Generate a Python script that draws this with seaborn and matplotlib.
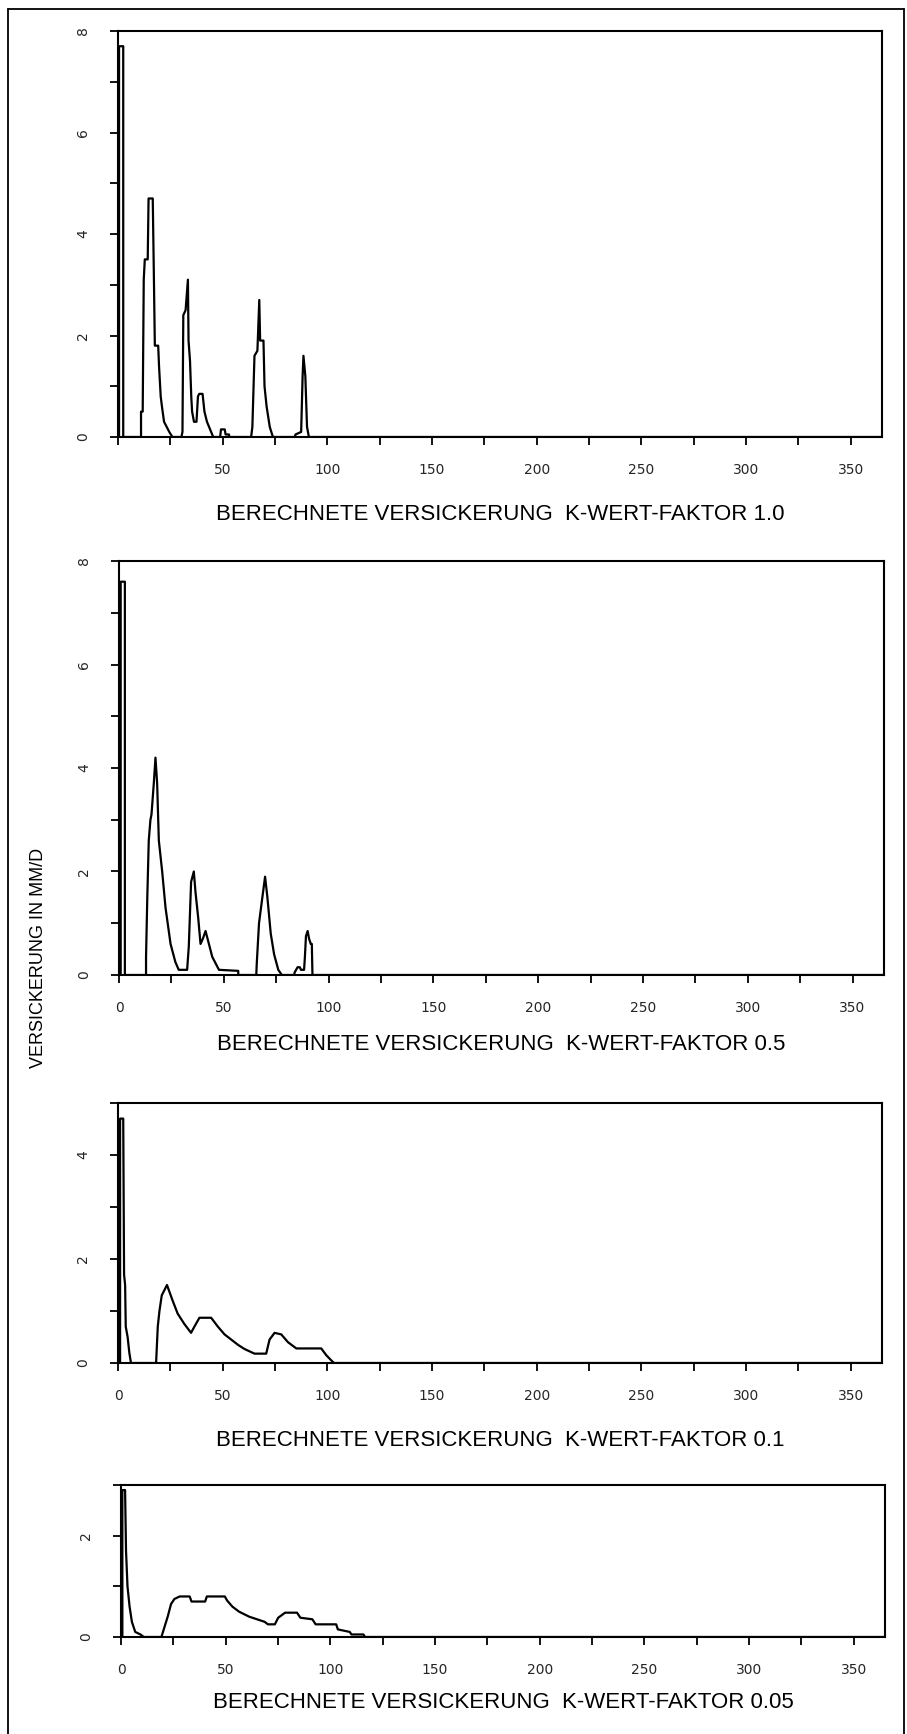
import matplotlib
matplotlib.use("Agg")
import matplotlib.pyplot as plt
from matplotlib.lines import Line2D
from matplotlib.ticker import MultipleLocator
import seaborn as sns

# Versickerung (mm/d) per day of year
days_10 = [0, 0.5, 0.5, 2.5, 2.5, 11, 11, 11.8, 12.3, 12.8, 14.2, 14.6, 16.6, 17.2, 17.6, 19.2,
           19.6, 20.4, 21, 22, 24.5, 26, 30.3, 30.8, 31.2, 32.3, 33.4, 33.7, 34.4, 35, 35.4,
           36.3, 37.5, 38.2, 38.8, 40.4, 41.3, 42.5, 43.5, 45.5, 48.8, 49.2, 51, 51.4, 53, 53.2,
           63.6, 64.2, 65.2, 66.6, 67.5, 67.9, 69.5, 70, 71, 72.5, 74, 84.5, 84.8, 87.5, 88.2,
           88.6, 89.5, 90.3, 91.2, 365]
vals_10 = [0, 0, 7.7, 7.7, 0, 0, 0.5, 0.5, 3.1, 3.5, 3.5, 4.7, 4.7, 3.0, 1.8, 1.8,
           1.4, 0.8, 0.6, 0.3, 0.1, 0, 0, 0.1, 2.4, 2.5, 3.1, 1.9, 1.5, 0.8, 0.5,
           0.3, 0.3, 0.8, 0.85, 0.85, 0.5, 0.3, 0.2, 0, 0, 0.15, 0.15, 0.05, 0.05, 0,
           0, 0.2, 1.6, 1.7, 2.7, 1.9, 1.9, 1.0, 0.6, 0.2, 0, 0, 0.05, 0.1, 1.2,
           1.6, 1.2, 0.2, 0, 0]

days_05 = [0, 0.8, 0.8, 2.8, 2.8, 12.9, 12.9, 13.5, 14.2, 15, 15.5, 16.6, 17.4, 18.2, 19,
           20.6, 22.2, 24.6, 26.9, 28.5, 32.5, 33.3, 34.4, 35.7, 36.5, 37.8, 38.9, 40, 41.3,
           42.9, 44.5, 47.7, 56.9, 56.9, 65.5, 65.7, 66.8, 68.4, 69.7, 70.8, 72.4, 74, 76,
           77.7, 83.6, 83.8, 85.2, 86.3, 86.8, 88.3, 88.7, 89.2, 90, 90.7, 91.5, 92, 92.3, 365]
vals_05 = [0, 0, 7.6, 7.6, 0, 0, 0.35, 1.5, 2.6, 3.0, 3.1, 3.7, 4.2, 3.7, 2.6,
           2.0, 1.3, 0.6, 0.25, 0.1, 0.1, 0.55, 1.8, 2.0, 1.6, 1.1, 0.6, 0.7, 0.85,
           0.6, 0.35, 0.1, 0.08, 0, 0, 0.2, 1.0, 1.5, 1.9, 1.5, 0.8, 0.4, 0.1,
           0, 0, 0.05, 0.15, 0.15, 0.1, 0.1, 0.35, 0.75, 0.85, 0.7, 0.6, 0.6, 0, 0]

days_01 = [0, 1, 1, 2.5, 2.9, 3.4, 3.7, 4.6, 5.4, 6.2, 18.2, 19.0, 19.8, 20.9, 23.4, 26.1,
           28.5, 31.7, 34.9, 36.5, 38.9, 44.5, 47.7, 50.9, 54.1, 57.3, 60.4, 65.2, 70.8,
           72.4, 74.8, 78, 81.2, 85.2, 97.1, 99.5, 101.9, 103.2, 365]
vals_01 = [0, 0, 4.7, 4.7, 1.7, 1.5, 0.7, 0.5, 0.2, 0, 0, 0.7, 1.0, 1.3, 1.5, 1.2,
           0.95, 0.75, 0.58, 0.7, 0.87, 0.87, 0.7, 0.55, 0.45, 0.35, 0.27, 0.18, 0.18,
           0.45, 0.58, 0.55, 0.4, 0.28, 0.28, 0.15, 0.05, 0, 0]

days_005 = [0, 0.65, 0.65, 1.95, 2.4, 3.1, 4.1, 5.2, 6.8, 9.3, 10.9, 19.3, 22.3, 23.9, 25.5,
            28, 32.8, 33.7, 40.2, 41, 49.6, 50.7, 53.2, 56.4, 61.3, 68.6, 70.2, 73.5, 75.1,
            78.4, 84.1, 85.7, 91.4, 93, 102.8, 103.6, 109.3, 110.1, 115.8, 116.6, 365]
vals_005 = [0, 0, 2.9, 2.9, 1.7, 1.0, 0.6, 0.3, 0.1, 0.05, 0, 0, 0.4, 0.65, 0.75,
            0.8, 0.8, 0.7, 0.7, 0.8, 0.8, 0.72, 0.6, 0.5, 0.4, 0.3, 0.25, 0.25, 0.38,
            0.48, 0.48, 0.38, 0.35, 0.25, 0.25, 0.15, 0.1, 0.05, 0.05, 0, 0]

titles = ["BERECHNETE VERSICKERUNG  K-WERT-FAKTOR 1.0",
          "BERECHNETE VERSICKERUNG  K-WERT-FAKTOR 0.5",
          "BERECHNETE VERSICKERUNG  K-WERT-FAKTOR 0.1",
          "BERECHNETE VERSICKERUNG  K-WERT-FAKTOR 0.05"]
y_max = [8, 8, 5, 3]
ylabel = "VERSICKERUNG IN MM/D"

sns.set_theme(style="ticks")
plt.rcParams["font.family"] = ["DejaVu Sans"]
narrow = ["Liberation Sans Narrow", "Liberation Sans", "DejaVu Sans"]

W, H = 907, 1734
fig = plt.figure(figsize=(W / 100, H / 100), dpi=100)

# axes boxes in pixels: left, top, right, bottom
boxes = [(118, 31, 882, 437), (119, 561, 884, 975), (118, 1103, 882, 1363), (121, 1485, 885, 1637)]
title_off = [78, 70, 78, 66]
series = [(days_10, vals_10), (days_05, vals_05), (days_01, vals_01), (days_005, vals_005)]

for i, ((l, t, r, b), (d, v)) in enumerate(zip(boxes, series)):
    ax = fig.add_axes([l / W, 1 - b / H, (r - l) / W, (b - t) / H])
    sns.lineplot(x=d, y=v, ax=ax, estimator=None, sort=False, color="black", linewidth=1.6)
    ax.set_xlim(0, 365)
    ax.set_ylim(0, y_max[i])
    ax.xaxis.set_major_locator(MultipleLocator(50))
    ax.xaxis.set_minor_locator(MultipleLocator(25))
    ax.yaxis.set_major_locator(MultipleLocator(2))
    ax.yaxis.set_minor_locator(MultipleLocator(1))
    ax.tick_params(axis="both", which="both", direction="out", length=6, width=1.3, color="black")
    ax.tick_params(axis="x", which="major", labelsize=10, pad=13)
    ax.tick_params(axis="y", which="major", labelsize=10, pad=14, labelrotation=90)
    xt = list(range(0, 351, 50))
    ax.set_xticks(xt)
    ax.set_xticklabels(["" if (i == 0 and x == 0) else str(x) for x in xt])
    for lab in ax.get_yticklabels():
        lab.set_va("center")
    for s in ax.spines.values():
        s.set_linewidth(1.5)
        s.set_color("black")
    ax.set_xlabel(titles[i], fontsize=16, family=narrow, color="black")
    ax.xaxis.label.set_va("center")
    ax.xaxis.set_label_coords(0.5, -title_off[i] / (b - t))
    ax.set_ylabel("")

fig.text(39 / W, 1 - 958 / H, ylabel, rotation=90, ha="center", va="center",
         fontsize=13, family=narrow, color="black")

# page frame of the scanned sheet
for xs, ys in [([8, 8], [0, H - 9]), ([8, W - 3], [H - 9, H - 9]), ([W - 3, W - 3], [0, H - 9])]:
    fig.add_artist(Line2D([x / W for x in xs], [y / H for y in ys], color="black", linewidth=1.3))

fig.savefig("out.png", dpi=100)
